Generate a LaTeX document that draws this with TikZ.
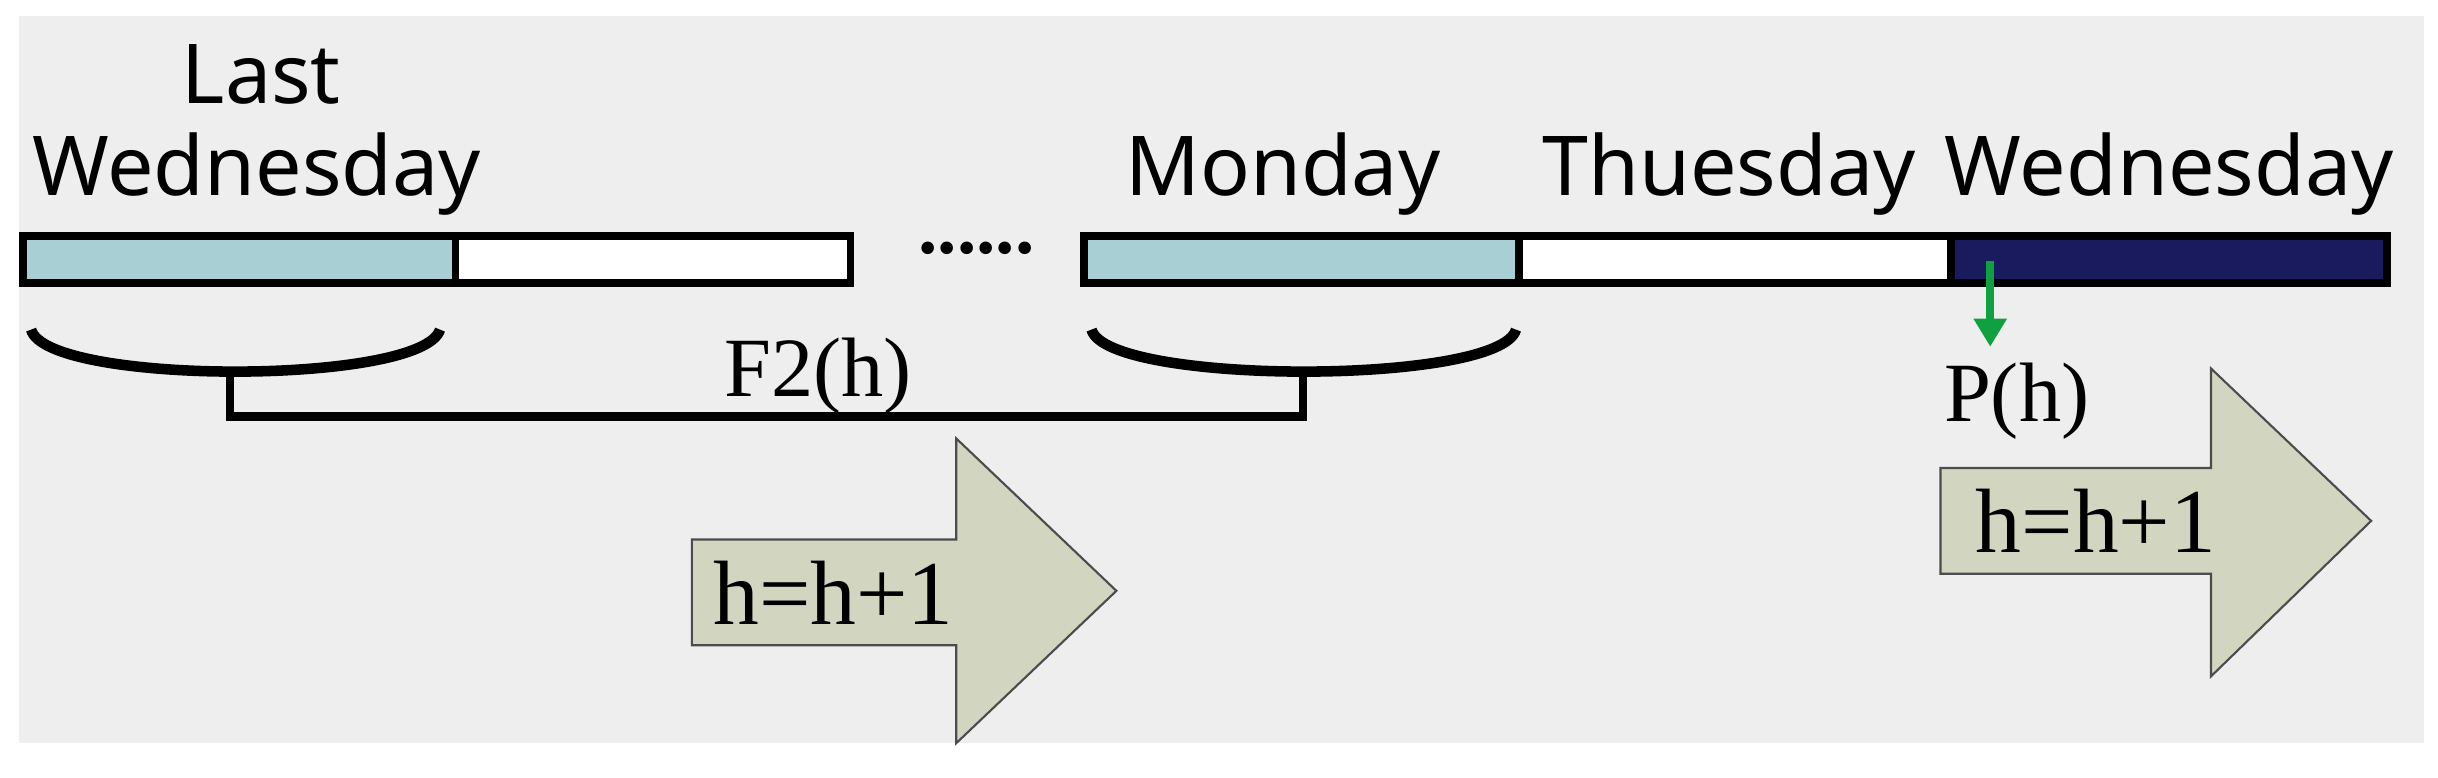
\documentclass[tikz,border=0pt]{standalone}
\usepackage{fontspec}
\usetikzlibrary{arrows.meta}
\setmainfont{Liberation Serif}
\newfontfamily\sansf{Noto Sans}
\definecolor{bg}{HTML}{EEEEEE}
\definecolor{lb}{HTML}{A8D0D4}
\definecolor{nv}{HTML}{1A1A5E}
\definecolor{ar}{HTML}{D2D5C0}
\definecolor{gr}{HTML}{10A040}
\begin{document}
\begin{tikzpicture}[x=0.01555cm,y=-0.01555cm,
  seg/.style={draw=black,line width=2.2pt},
  day/.style={font=\sansf\fontsize{23.5}{28}\selectfont,inner sep=0},
  lab/.style={font=\fontsize{24}{28}\selectfont,inner sep=0},
  brace/.style={line width=3pt},
  bigarrow/.style={draw=black!70,fill=ar,line width=0.6pt}]
\useasboundingbox (0,0) rectangle (1568,500);
\fill[bg] (12,10) rectangle (1559,478);
% bar
\path[seg,fill=lb] (15,152) rectangle (293,182);
\path[seg,fill=white] (293,152) rectangle (547,182);
\path[seg,fill=lb] (697,152) rectangle (977,182);
\path[seg,fill=white] (977,152) rectangle (1255,182);
\path[seg,fill=nv] (1255,152) rectangle (1535,182);
\node[inner sep=0,font=\bfseries\fontsize{22}{22}\selectfont] (dots) at (628,160) {......};
% labels
\node[day] (last) at (168,48) {Last};
\node[day] (lw) at (165,112) {Wednesday};
\node[day] (mon) at (825,112) {Monday};
\node[day] (thu) at (1112,112) {Thuesday};
\node[day] (wed) at (1395,112) {Wednesday};
% braces
\draw[brace] (20,212) .. controls (30,248) and (272,248) .. (283,212);
\draw[brace] (702,212) .. controls (712,248) and (965,248) .. (975,212);
\coordinate (b1) at (148,239);
\coordinate (b2) at (838,239);
\draw[line width=2.4pt] (b1) -- (148,268) -- (838,268) -- (b2);
\node[lab] (f2) at (526,242) {F2(h)};
% green arrow
\coordinate (gs) at (1280,168);
\coordinate (ge) at (1280,223);
\draw[gr,line width=2.2pt,-{Triangle[width=9pt,length=8pt]}] (gs) -- (ge);
\node[lab] (p) at (1297,258) {P(h)};
% big arrows
\draw[bigarrow] (445,347) -- (615,347) -- (615,282) -- (718,380) -- (615,478) -- (615,415) -- (445,415) -- cycle;
\node[lab,font=\fontsize{26}{30}\selectfont] (h1) at (536,381) {h=h+1};
\draw[bigarrow] (1248,301) -- (1422,301) -- (1422,237) -- (1525,335) -- (1422,435) -- (1422,369) -- (1248,369) -- cycle;
\node[lab,font=\fontsize{26}{30}\selectfont] (h2) at (1348,335) {h=h+1};
\end{tikzpicture}
\end{document}
